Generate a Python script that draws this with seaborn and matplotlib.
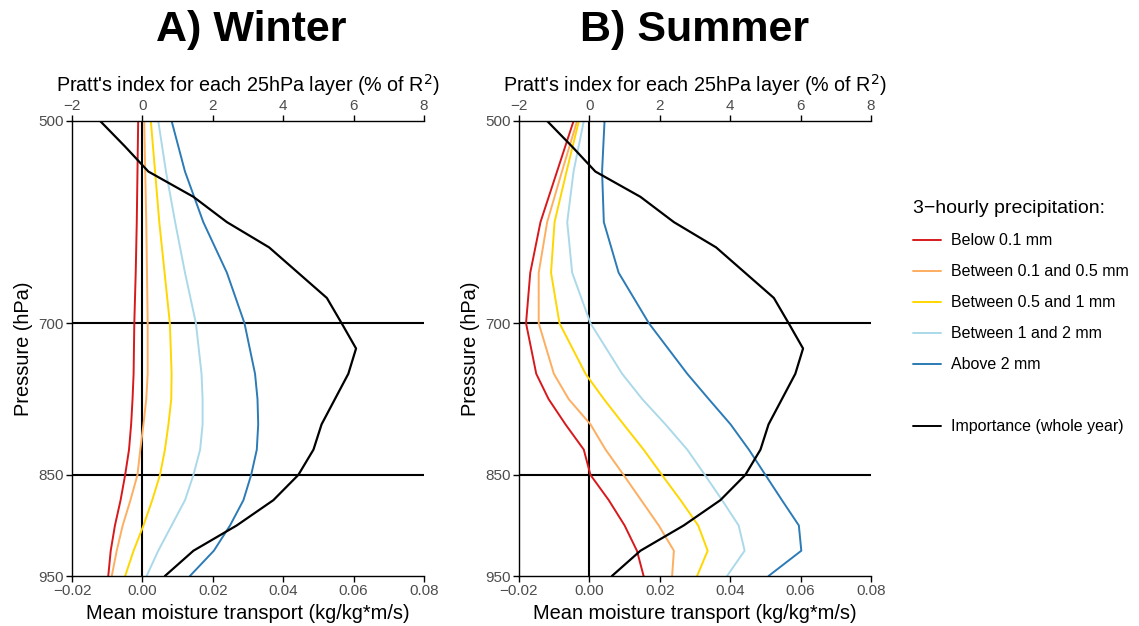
import numpy as np
import pandas as pd
import matplotlib
matplotlib.use("Agg")
import matplotlib.pyplot as plt
from matplotlib.lines import Line2D
import seaborn as sns

# ---------------- data ----------------
levels = [500, 550, 600, 650, 700, 750, 775, 800, 825, 850, 875, 900, 925, 950]
categories = ["Below 0.1 mm", "Between 0.1 and 0.5 mm", "Between 0.5 and 1 mm",
              "Between 1 and 2 mm", "Above 2 mm"]

winter_below01 = [-0.0012, -0.0014, -0.0016, -0.0019, -0.0023, -0.0025, -0.0028,
                  -0.0032, -0.0038, -0.0049, -0.0062, -0.0078, -0.0090, -0.0097]
winter_01_05 = [0.0005, 0.0008, 0.0011, 0.0013, 0.0015, 0.0015, 0.0011,
                0.0003, -0.0006, -0.0014, -0.0034, -0.0056, -0.0073, -0.0087]
winter_05_1 = [0.0024, 0.0036, 0.0048, 0.0063, 0.0078, 0.0083, 0.0082,
               0.0074, 0.0064, 0.0050, 0.0028, 0.0003, -0.0025, -0.0049]
winter_1_2 = [0.0045, 0.0067, 0.0093, 0.0121, 0.0152, 0.0168, 0.0171,
              0.0171, 0.0164, 0.0145, 0.0121, 0.0083, 0.0045, 0.0012]
winter_above2 = [0.0083, 0.0121, 0.0173, 0.0240, 0.0290, 0.0320, 0.0327,
                 0.0329, 0.0325, 0.0309, 0.0287, 0.0249, 0.0203, 0.0135]

summer_below01 = [-0.0045, -0.0092, -0.0139, -0.0168, -0.0180, -0.0151, -0.0116,
                  -0.0068, -0.0016, 0.0003, 0.0055, 0.0100, 0.0135, 0.0154]
summer_01_05 = [-0.0035, -0.0078, -0.0120, -0.0144, -0.0144, -0.0101, -0.0059,
                0.0003, 0.0046, 0.0097, 0.0147, 0.0197, 0.0240, 0.0235]
summer_05_1 = [-0.0030, -0.0065, -0.0099, -0.0109, -0.0085, -0.0011, 0.0041,
               0.0097, 0.0154, 0.0206, 0.0259, 0.0309, 0.0336, 0.0306]
summer_1_2 = [-0.0016, -0.0045, -0.0063, -0.0049, 0.0003, 0.0093, 0.0150,
              0.0216, 0.0278, 0.0328, 0.0377, 0.0424, 0.0441, 0.0391]
summer_above2 = [0.0043, 0.0036, 0.0041, 0.0083, 0.0169, 0.0278, 0.0339,
                 0.0401, 0.0453, 0.0500, 0.0547, 0.0595, 0.0602, 0.0509]

importance_levels = [500, 525, 550, 575, 600, 625, 650, 675, 700, 725, 750,
                     775, 800, 825, 850, 875, 900, 925, 950]
importance_pct = [-1.2, -0.5, 0.17, 1.45, 2.4, 3.6, 4.42, 5.24, 5.66, 6.07, 5.85,
                  5.47, 5.09, 4.86, 4.43, 3.72, 2.68, 1.45, 0.64]

bottom_ticks = [-0.02, 0.0, 0.02, 0.04, 0.06, 0.08]
top_ticks = [-2, 0, 2, 4, 6, 8]
pressure_ticks = [500, 700, 850, 950]
panel_titles = ["A) Winter", "B) Summer"]

colors = ["#D7191C", "#FDAE61", "#FFD700", "#ABD9E9", "#2C7BB6"]

# ---------------- frames ----------------
def make_df(series):
    rows = []
    for cat, vals in zip(categories, series):
        for p, v in zip(levels, vals):
            rows.append({"category": cat, "pressure": p, "transport": v})
    return pd.DataFrame(rows)

df_w = make_df([winter_below01, winter_01_05, winter_05_1, winter_1_2, winter_above2])
df_s = make_df([summer_below01, summer_01_05, summer_05_1, summer_1_2, summer_above2])
df_imp = pd.DataFrame({"pressure": importance_levels, "pratt": importance_pct})

# ---------------- style ----------------
sns.set_style("ticks")
plt.rcParams["font.family"] = ["Liberation Sans", "DejaVu Sans"]
plt.rcParams["axes.unicode_minus"] = True
plt.rcParams["text.color"] = "black"
plt.rcParams["axes.labelcolor"] = "black"

fig = plt.figure(figsize=(11.39, 6.26), dpi=100)
W, H = 1139, 626
tick_col = "#4D4D4D"

panels = [(72, df_w, 251), (519, df_s, 695)]
for i, (x0, df, title_x) in enumerate(panels):
    ax = fig.add_axes([x0 / W, 1 - 576 / H, 352 / W, 455 / H])
    sns.lineplot(data=df, x="transport", y="pressure", hue="category",
                 hue_order=categories, palette=colors, orient="y",
                 estimator=None, lw=1.4, ax=ax, legend=False)
    ax.axvline(0, color="black", lw=1.5, zorder=1)
    ax.axhline(700, color="black", lw=1.5, zorder=1)
    ax.axhline(850, color="black", lw=1.5, zorder=1)
    ax.set_xlim(-0.02, 0.08)
    ax.set_ylim(950, 500)
    ax.set_xticks(bottom_ticks)
    ax.set_xticklabels([f"{t:.2f}".replace("-", "\u2212") for t in bottom_ticks])
    ax.set_yticks(pressure_ticks)
    ax.set_xlabel("Mean moisture transport (kg/kg*m/s)", fontsize=14.4, labelpad=4,
                  color="black")
    ax.set_ylabel("Pressure (hPa)", fontsize=14.4, labelpad=4, color="black")
    ax.tick_params(axis="both", labelsize=11, colors="black", labelcolor=tick_col,
                   length=4, width=1, pad=2)
    for s in ["left", "bottom"]:
        ax.spines[s].set_color("black")
        ax.spines[s].set_linewidth(1)
    ax.spines["right"].set_visible(False)
    ax.spines["top"].set_visible(False)

    ax2 = ax.twiny()
    sns.lineplot(data=df_imp, x="pratt", y="pressure", orient="y", color="black",
                 estimator=None, lw=1.6, ax=ax2, legend=False)
    ax2.set_xlim(-2, 8)
    ax2.set_ylim(950, 500)
    ax2.set_xticks(top_ticks)
    ax2.set_xticklabels([str(t).replace("-", "\u2212") for t in top_ticks])
    ax2.set_xlabel("Pratt's index for each 25hPa layer (% of R$^2$)", fontsize=14.2,
                   labelpad=5, color="black")
    ax2.tick_params(axis="x", labelsize=11, colors="black", labelcolor=tick_col,
                    length=4, width=1, pad=2)
    ax2.spines["top"].set_visible(True)
    ax2.spines["top"].set_color("black")
    ax2.spines["top"].set_linewidth(1)
    for s in ["left", "right", "bottom"]:
        ax2.spines[s].set_visible(False)

    fig.text(title_x / W, 1 - 30 / H, panel_titles[i], ha="center", va="center",
             fontsize=31, fontweight="bold", color="black")

# ---------------- legend ----------------
handles = [Line2D([], [], color=c, lw=1.4) for c in colors]
labels = list(categories)
handles.append(Line2D([], [], color="none"))
labels.append(" ")
handles.append(Line2D([], [], color="black", lw=1.4))
labels.append("Importance (whole year)")
leg = fig.legend(handles, labels, loc="upper left",
                 bbox_to_anchor=(899 / W, 1 - 186 / H),
                 frameon=False, title="3\u2212hourly precipitation:",
                 title_fontsize=14, fontsize=11.5, labelspacing=1.0,
                 handlelength=1.75, handletextpad=0.6, alignment="left")
for t in leg.get_texts():
    t.set_color("black")
leg.get_title().set_color("black")

fig.savefig("out.png", dpi=100)
